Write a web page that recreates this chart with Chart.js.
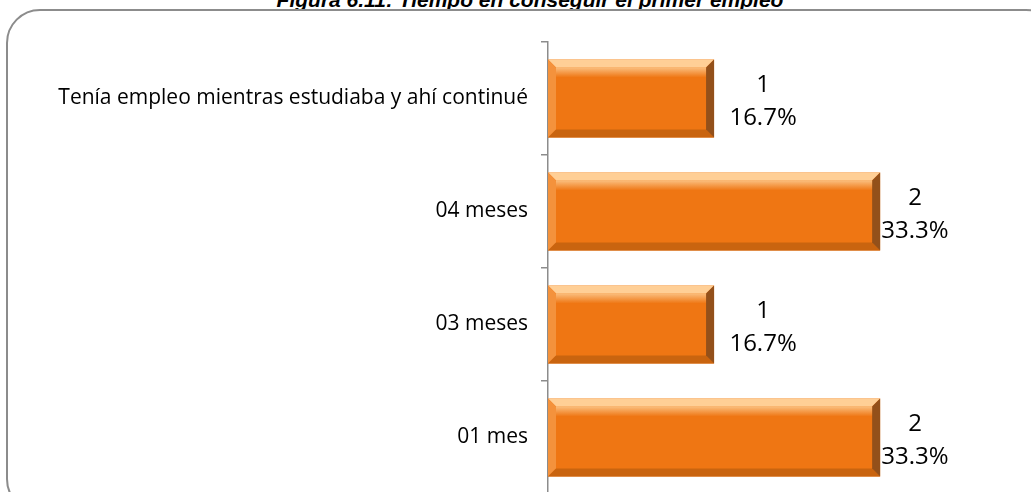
<!DOCTYPE html>
<html>
<head>
<meta charset="utf-8">
<script src="https://cdn.jsdelivr.net/npm/chart.js@4.4.0/dist/chart.umd.min.js"></script>
<style>
  html, body { margin: 0; padding: 0; background: #fff; overflow: hidden; }
  body { width: 1031px; height: 492px; position: relative; }
  #title {
    position: absolute; left: 0; width: 1060px; top: -12px; text-align: center;
    font: bold italic 21px "Liberation Sans", Arial, sans-serif; color: #000;
  }
  #frame {
    position: absolute; left: 6px; top: 9px; width: 1050px; height: 500px;
    border: 2px solid #8c8c8c; border-radius: 34px;
  }
  #wrap { position: absolute; left: 0; top: 0; }
</style>
</head>
<body>
<div id="title">Figura 6.11: Tiempo en conseguir el primer empleo</div>
<div id="frame"></div>
<div id="wrap"><canvas id="chart" width="1031" height="530"></canvas></div>
<script>
// categories top to bottom
const categories = ['Tenía empleo mientras estudiaba y ahí continué', '04 meses', '03 meses', '01 mes'];
const counts = [1, 2, 1, 2];
const percents = ['16.7%', '33.3%', '16.7%', '33.3%'];

// bevel look on the bars
const bevelPlugin = {
  id: 'bevel',
  afterDatasetsDraw(chart) {
    const ctx = chart.ctx;
    chart.getDatasetMeta(0).data.forEach(bar => {
      const x0 = bar.base, x1 = bar.x;
      const y0 = bar.y - bar.height / 2, y1 = bar.y + bar.height / 2;
      const b = 8;
      ctx.save();
      // top
      ctx.fillStyle = '#ffcf96';
      ctx.beginPath();
      ctx.moveTo(x0, y0); ctx.lineTo(x1, y0); ctx.lineTo(x1 - b, y0 + b); ctx.lineTo(x0 + b, y0 + b); ctx.closePath(); ctx.fill();
      // left
      ctx.fillStyle = '#f4923c';
      ctx.beginPath();
      ctx.moveTo(x0, y0); ctx.lineTo(x0 + b, y0 + b); ctx.lineTo(x0 + b, y1 - b); ctx.lineTo(x0, y1); ctx.closePath(); ctx.fill();
      // bottom
      ctx.fillStyle = '#c9640f';
      ctx.beginPath();
      ctx.moveTo(x0, y1); ctx.lineTo(x0 + b, y1 - b); ctx.lineTo(x1 - b, y1 - b); ctx.lineTo(x1, y1); ctx.closePath(); ctx.fill();
      // right
      ctx.fillStyle = '#93501a';
      ctx.beginPath();
      ctx.moveTo(x1, y0); ctx.lineTo(x1, y1); ctx.lineTo(x1 - b, y1 - b); ctx.lineTo(x1 - b, y0 + b); ctx.closePath(); ctx.fill();
      // soft highlight band
      const g = ctx.createLinearGradient(0, y0 + b, 0, y0 + b + 10);
      g.addColorStop(0, 'rgba(255,220,170,0.7)');
      g.addColorStop(1, 'rgba(255,220,170,0)');
      ctx.fillStyle = g;
      ctx.fillRect(x0 + b, y0 + b, x1 - x0 - 2 * b, 10);
      ctx.restore();
    });
  }
};

// count + percent labels at bar ends
const valueLabels = {
  id: 'valueLabels',
  afterDatasetsDraw(chart) {
    const ctx = chart.ctx;
    ctx.save();
    ctx.font = '24px "Open Sans", sans-serif';
    ctx.fillStyle = '#000';
    ctx.textAlign = 'center';
    ctx.textBaseline = 'middle';
    chart.getDatasetMeta(0).data.forEach((bar, i) => {
      const cx = Math.min(bar.x + 49, chart.chartArea.right - 98);
      ctx.fillText(String(counts[i]), cx, bar.y - 13);
      ctx.fillText(percents[i], cx, bar.y + 20);
    });
    ctx.restore();
  }
};

new Chart(document.getElementById('chart'), {
  type: 'bar',
  data: {
    labels: categories,
    datasets: [{
      data: counts,
      backgroundColor: '#ef7613',
      borderWidth: 0,
      categoryPercentage: 1,
      barPercentage: 0.69
    }]
  },
  options: {
    indexAxis: 'y',
    responsive: false,
    animation: false,
    layout: { padding: { top: 42, bottom: 36, left: 0, right: 18 } },
    plugins: { legend: { display: false }, tooltip: { enabled: false } },
    scales: {
      x: { display: false, min: 0, max: 2.8 },
      y: {
        afterFit(scale) { scale.width = 548; },
        grid: { drawOnChartArea: false, offset: true, tickLength: 7, color: '#8c8c8c', lineWidth: 1.5 },
        border: { color: '#8c8c8c', width: 1.5 },
        ticks: { padding: 13, color: '#000', font: { family: '"Open Sans", sans-serif', size: 21 } }
      }
    }
  },
  plugins: [bevelPlugin, valueLabels]
});
</script>
</body>
</html>
